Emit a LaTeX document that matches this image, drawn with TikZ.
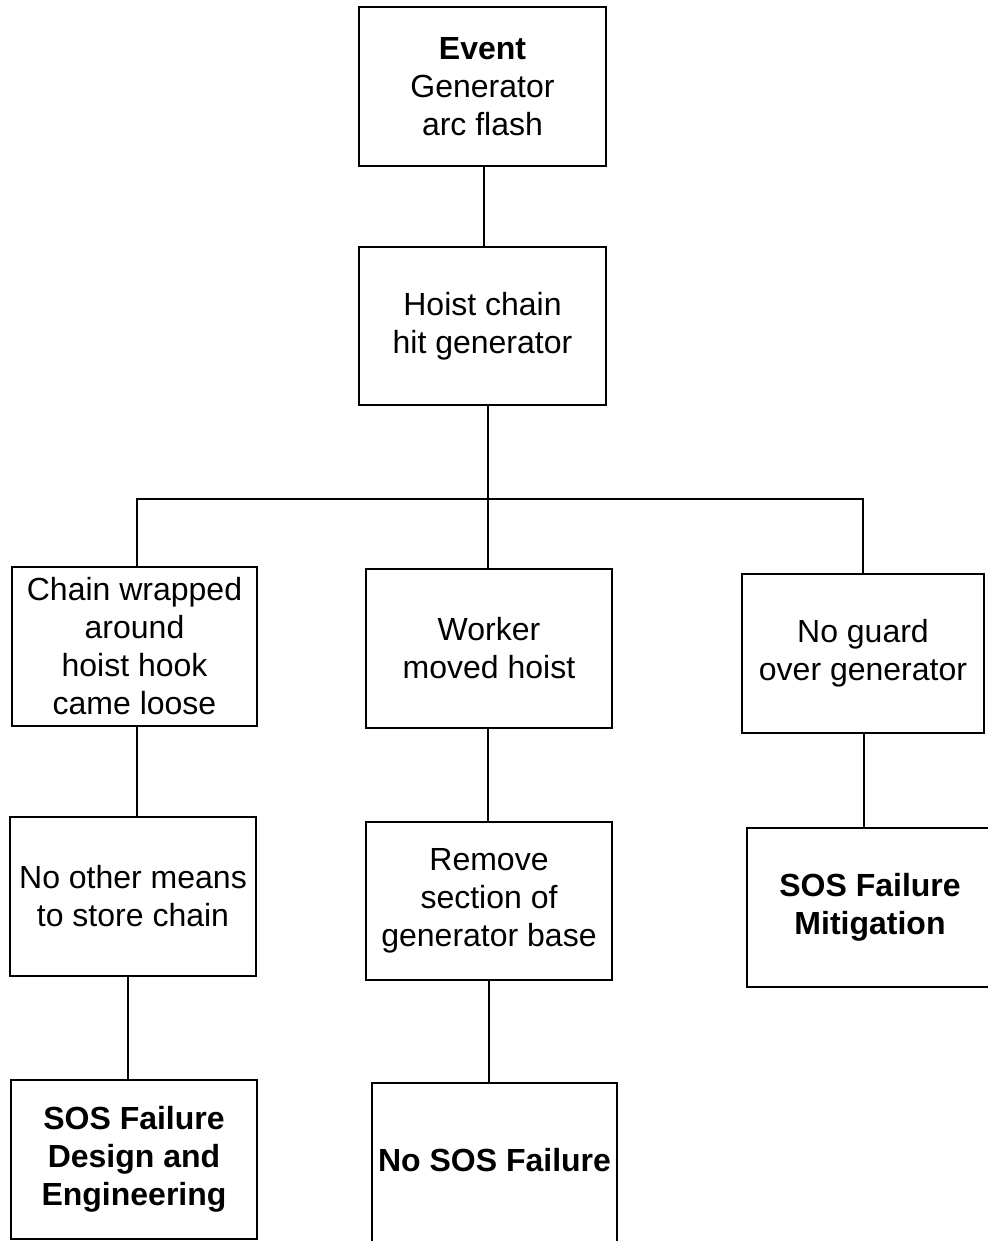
\documentclass[tikz,border=0pt]{standalone}
\usepackage{fontspec}
\setmainfont{Liberation Sans}
\begin{document}
\begin{tikzpicture}[x=1pt,y=-1pt,
  every node/.style={font=\fontsize{32}{38}\selectfont},
  box/.style={draw=black, line width=2pt, rectangle, inner sep=0pt, align=center, minimum height=159pt},
  conn/.style={draw=black, line width=2pt}]
\useasboundingbox (0,0) rectangle (987,1241);
% level 0 and 1
\node[box, minimum width=247pt] (e1) at (482.5,86.5) {\textbf{Event}\\Generator\\arc flash};
\node[box, minimum width=247pt, minimum height=158pt] (e2) at (482.5,326) {Hoist chain\\hit generator};
% level 2
\node[box, minimum width=245pt] (c1) at (134.5,646.5) {Chain wrapped\\around\\hoist hook\\came loose};
\node[box, minimum width=246pt] (c2) at (489,648.5) {Worker\\moved hoist};
\node[box, minimum width=242pt] (c3) at (863,653.5) {No guard\\over generator};
% level 3
\node[box, minimum width=246pt] (d1) at (133,896.5) {No other means\\to store chain};
\node[box, minimum width=246pt, minimum height=158pt] (d2) at (489,901) {Remove\\section of\\generator base};
\node[box, minimum width=246pt] (d3) at (870,907.5) {\textbf{SOS Failure}\\\textbf{Mitigation}};
% level 4
\node[box, minimum width=246pt] (f1) at (134,1159.5) {\textbf{SOS Failure}\\\textbf{Design and}\\\textbf{Engineering}};
\node[draw=black, line width=2pt, rectangle, inner sep=0pt, minimum width=245pt, text height=88.5pt, text depth=88.5pt] (f2) at (494.5,1171.5) {\textbf{No SOS Failure}};
% connectors
\coordinate (j) at (488,499);
\draw[conn] ([xshift=1.5pt]e1.south) -- ([xshift=1.5pt]e1.south |- e2.north);
\draw[conn] ([xshift=5.5pt]e2.south) -- (j);
\draw[conn] ([xshift=2.5pt]c1.north) |- (j) -| (c3.north);
\draw[conn] (j) -- (j |- c2.north);
\draw[conn] ([xshift=2.5pt]c1.south) -- ([xshift=2.5pt]c1.south |- d1.north);
\draw[conn] ([xshift=-5pt]d1.south) -- ([xshift=-5pt]d1.south |- f1.north);
\draw[conn] ([xshift=-1pt]c2.south) -- ([xshift=-1pt]c2.south |- d2.north);
\draw[conn] (d2.south) -- (d2.south |- f2.north);
\draw[conn] ([xshift=1pt]c3.south) -- ([xshift=1pt]c3.south |- d3.north);
\end{tikzpicture}
\end{document}
